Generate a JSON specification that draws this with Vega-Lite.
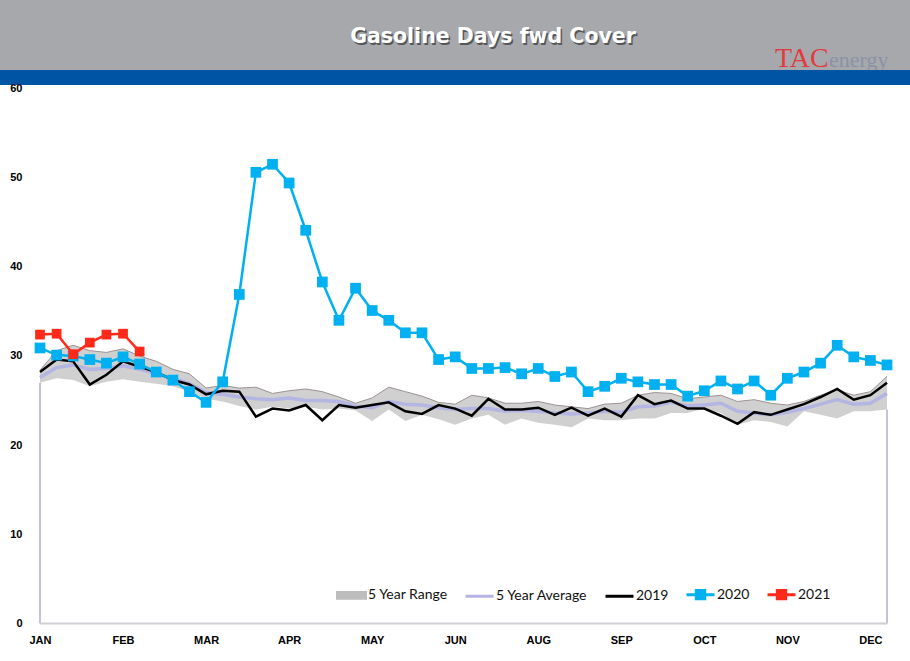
{
  "$schema": "https://vega.github.io/schema/vega-lite/v6.json",
  "padding": 0,
  "spacing": 0,
  "bounds": "flush",
  "config": {"view": {"stroke": null}, "font": "Liberation Sans"},
  "datasets": {
    "range": [
      {"wk":1,"lo":27.0,"hi":28.4},{"wk":2,"lo":27.5,"hi":30.6},{"wk":3,"lo":27.3,"hi":31.2},{"wk":4,"lo":26.6,"hi":30.6},
      {"wk":5,"lo":27.1,"hi":30.4},{"wk":6,"lo":27.4,"hi":30.8},{"wk":7,"lo":27.1,"hi":30.0},{"wk":8,"lo":26.9,"hi":29.4},
      {"wk":9,"lo":26.6,"hi":28.5},{"wk":10,"lo":26.0,"hi":28.0},{"wk":11,"lo":25.2,"hi":26.4},{"wk":12,"lo":24.9,"hi":26.7},
      {"wk":13,"lo":24.4,"hi":26.4},{"wk":14,"lo":24.0,"hi":26.5},{"wk":15,"lo":24.3,"hi":25.8},{"wk":16,"lo":24.1,"hi":26.1},
      {"wk":17,"lo":24.3,"hi":26.3},{"wk":18,"lo":24.0,"hi":26.0},{"wk":19,"lo":24.1,"hi":25.4},{"wk":20,"lo":23.9,"hi":24.7},
      {"wk":21,"lo":22.7,"hi":25.3},{"wk":22,"lo":24.0,"hi":26.5},{"wk":23,"lo":22.7,"hi":26.0},{"wk":24,"lo":23.4,"hi":25.5},
      {"wk":25,"lo":22.9,"hi":24.8},{"wk":26,"lo":22.3,"hi":24.6},{"wk":27,"lo":23.0,"hi":25.6},{"wk":28,"lo":23.4,"hi":25.3},
      {"wk":29,"lo":22.3,"hi":24.7},{"wk":30,"lo":23.0,"hi":24.7},{"wk":31,"lo":22.5,"hi":24.9},{"wk":32,"lo":22.3,"hi":24.5},
      {"wk":33,"lo":22.0,"hi":24.3},{"wk":34,"lo":23.0,"hi":24.1},{"wk":35,"lo":22.8,"hi":24.6},{"wk":36,"lo":22.8,"hi":24.7},
      {"wk":37,"lo":23.0,"hi":25.6},{"wk":38,"lo":23.0,"hi":25.9},{"wk":39,"lo":23.6,"hi":25.8},{"wk":40,"lo":23.6,"hi":25.2},
      {"wk":41,"lo":24.1,"hi":25.4},{"wk":42,"lo":23.6,"hi":25.6},{"wk":43,"lo":22.3,"hi":24.9},{"wk":44,"lo":22.8,"hi":25.1},
      {"wk":45,"lo":22.6,"hi":24.7},{"wk":46,"lo":22.1,"hi":24.5},{"wk":47,"lo":23.8,"hi":24.9},{"wk":48,"lo":23.4,"hi":25.6},
      {"wk":49,"lo":23.0,"hi":26.2},{"wk":50,"lo":23.8,"hi":25.6},{"wk":51,"lo":23.8,"hi":26.0},{"wk":52,"lo":24.0,"hi":27.7}
    ],
    "lines": [
      {"wk":1,"series":"5 Year Average","v":27.6},{"wk":2,"series":"5 Year Average","v":28.7},{"wk":3,"series":"5 Year Average","v":29.0},{"wk":4,"series":"5 Year Average","v":28.5},
      {"wk":5,"series":"5 Year Average","v":28.6},{"wk":6,"series":"5 Year Average","v":28.9},{"wk":7,"series":"5 Year Average","v":28.5},{"wk":8,"series":"5 Year Average","v":28.0},
      {"wk":9,"series":"5 Year Average","v":27.5},{"wk":10,"series":"5 Year Average","v":26.9},{"wk":11,"series":"5 Year Average","v":25.9},{"wk":12,"series":"5 Year Average","v":25.7},
      {"wk":13,"series":"5 Year Average","v":25.4},{"wk":14,"series":"5 Year Average","v":25.2},{"wk":15,"series":"5 Year Average","v":25.1},{"wk":16,"series":"5 Year Average","v":25.3},
      {"wk":17,"series":"5 Year Average","v":25.0},{"wk":18,"series":"5 Year Average","v":25.0},{"wk":19,"series":"5 Year Average","v":24.9},{"wk":20,"series":"5 Year Average","v":24.4},
      {"wk":21,"series":"5 Year Average","v":24.2},{"wk":22,"series":"5 Year Average","v":24.9},{"wk":23,"series":"5 Year Average","v":24.6},{"wk":24,"series":"5 Year Average","v":24.5},
      {"wk":25,"series":"5 Year Average","v":24.2},{"wk":26,"series":"5 Year Average","v":24.0},{"wk":27,"series":"5 Year Average","v":24.1},{"wk":28,"series":"5 Year Average","v":24.1},
      {"wk":29,"series":"5 Year Average","v":23.8},{"wk":30,"series":"5 Year Average","v":23.9},{"wk":31,"series":"5 Year Average","v":23.8},{"wk":32,"series":"5 Year Average","v":23.6},
      {"wk":33,"series":"5 Year Average","v":23.5},{"wk":34,"series":"5 Year Average","v":23.6},{"wk":35,"series":"5 Year Average","v":23.8},{"wk":36,"series":"5 Year Average","v":23.7},
      {"wk":37,"series":"5 Year Average","v":24.3},{"wk":38,"series":"5 Year Average","v":24.4},{"wk":39,"series":"5 Year Average","v":24.8},{"wk":40,"series":"5 Year Average","v":24.4},
      {"wk":41,"series":"5 Year Average","v":24.5},{"wk":42,"series":"5 Year Average","v":24.7},{"wk":43,"series":"5 Year Average","v":23.8},{"wk":44,"series":"5 Year Average","v":23.6},
      {"wk":45,"series":"5 Year Average","v":23.4},{"wk":46,"series":"5 Year Average","v":23.7},{"wk":47,"series":"5 Year Average","v":24.1},{"wk":48,"series":"5 Year Average","v":24.6},
      {"wk":49,"series":"5 Year Average","v":25.1},{"wk":50,"series":"5 Year Average","v":24.6},{"wk":51,"series":"5 Year Average","v":24.7},{"wk":52,"series":"5 Year Average","v":25.8},

      {"wk":1,"series":"2019","v":28.2},{"wk":2,"series":"2019","v":29.6},{"wk":3,"series":"2019","v":29.4},{"wk":4,"series":"2019","v":26.8},
      {"wk":5,"series":"2019","v":27.9},{"wk":6,"series":"2019","v":29.4},{"wk":7,"series":"2019","v":28.8},{"wk":8,"series":"2019","v":28.2},
      {"wk":9,"series":"2019","v":27.3},{"wk":10,"series":"2019","v":26.8},{"wk":11,"series":"2019","v":25.7},{"wk":12,"series":"2019","v":26.1},
      {"wk":13,"series":"2019","v":26.0},{"wk":14,"series":"2019","v":23.2},{"wk":15,"series":"2019","v":24.1},{"wk":16,"series":"2019","v":23.9},
      {"wk":17,"series":"2019","v":24.5},{"wk":18,"series":"2019","v":22.8},{"wk":19,"series":"2019","v":24.5},{"wk":20,"series":"2019","v":24.2},
      {"wk":21,"series":"2019","v":24.5},{"wk":22,"series":"2019","v":24.8},{"wk":23,"series":"2019","v":23.8},{"wk":24,"series":"2019","v":23.5},
      {"wk":25,"series":"2019","v":24.5},{"wk":26,"series":"2019","v":24.1},{"wk":27,"series":"2019","v":23.3},{"wk":28,"series":"2019","v":25.2},
      {"wk":29,"series":"2019","v":24.0},{"wk":30,"series":"2019","v":24.0},{"wk":31,"series":"2019","v":24.2},{"wk":32,"series":"2019","v":23.4},
      {"wk":33,"series":"2019","v":24.2},{"wk":34,"series":"2019","v":23.3},{"wk":35,"series":"2019","v":24.1},{"wk":36,"series":"2019","v":23.2},
      {"wk":37,"series":"2019","v":25.6},{"wk":38,"series":"2019","v":24.6},{"wk":39,"series":"2019","v":25.0},{"wk":40,"series":"2019","v":24.1},
      {"wk":41,"series":"2019","v":24.1},{"wk":42,"series":"2019","v":23.3},{"wk":43,"series":"2019","v":22.4},{"wk":44,"series":"2019","v":23.7},
      {"wk":45,"series":"2019","v":23.4},{"wk":46,"series":"2019","v":24.0},{"wk":47,"series":"2019","v":24.6},{"wk":48,"series":"2019","v":25.4},
      {"wk":49,"series":"2019","v":26.3},{"wk":50,"series":"2019","v":25.1},{"wk":51,"series":"2019","v":25.6},{"wk":52,"series":"2019","v":27.0},

      {"wk":1,"series":"2020","v":30.9},{"wk":2,"series":"2020","v":30.1},{"wk":3,"series":"2020","v":30.0},{"wk":4,"series":"2020","v":29.6},
      {"wk":5,"series":"2020","v":29.2},{"wk":6,"series":"2020","v":29.9},{"wk":7,"series":"2020","v":29.1},{"wk":8,"series":"2020","v":28.2},
      {"wk":9,"series":"2020","v":27.3},{"wk":10,"series":"2020","v":26.0},{"wk":11,"series":"2020","v":24.8},{"wk":12,"series":"2020","v":27.1},
      {"wk":13,"series":"2020","v":36.9},{"wk":14,"series":"2020","v":50.6},{"wk":15,"series":"2020","v":51.5},{"wk":16,"series":"2020","v":49.4},
      {"wk":17,"series":"2020","v":44.1},{"wk":18,"series":"2020","v":38.3},{"wk":19,"series":"2020","v":34.0},{"wk":20,"series":"2020","v":37.6},
      {"wk":21,"series":"2020","v":35.1},{"wk":22,"series":"2020","v":34.0},{"wk":23,"series":"2020","v":32.6},{"wk":24,"series":"2020","v":32.6},
      {"wk":25,"series":"2020","v":29.6},{"wk":26,"series":"2020","v":29.9},{"wk":27,"series":"2020","v":28.6},{"wk":28,"series":"2020","v":28.6},
      {"wk":29,"series":"2020","v":28.7},{"wk":30,"series":"2020","v":28.0},{"wk":31,"series":"2020","v":28.6},{"wk":32,"series":"2020","v":27.7},
      {"wk":33,"series":"2020","v":28.2},{"wk":34,"series":"2020","v":26.0},{"wk":35,"series":"2020","v":26.6},{"wk":36,"series":"2020","v":27.5},
      {"wk":37,"series":"2020","v":27.1},{"wk":38,"series":"2020","v":26.8},{"wk":39,"series":"2020","v":26.8},{"wk":40,"series":"2020","v":25.5},
      {"wk":41,"series":"2020","v":26.1},{"wk":42,"series":"2020","v":27.2},{"wk":43,"series":"2020","v":26.3},{"wk":44,"series":"2020","v":27.2},
      {"wk":45,"series":"2020","v":25.6},{"wk":46,"series":"2020","v":27.5},{"wk":47,"series":"2020","v":28.2},{"wk":48,"series":"2020","v":29.2},
      {"wk":49,"series":"2020","v":31.2},{"wk":50,"series":"2020","v":29.9},{"wk":51,"series":"2020","v":29.5},{"wk":52,"series":"2020","v":29.0},

      {"wk":1,"series":"2021","v":32.4},{"wk":2,"series":"2021","v":32.5},{"wk":3,"series":"2021","v":30.2},{"wk":4,"series":"2021","v":31.5},
      {"wk":5,"series":"2021","v":32.4},{"wk":6,"series":"2021","v":32.5},{"wk":7,"series":"2021","v":30.5}
    ]
  },
  "vconcat": [
    {
      "width": 910,
      "height": 70,
      "view": {"fill": "#a7a8ac", "stroke": null},
      "data": {"values": [{}]},
      "layer": [
        {"mark": {"type": "text", "text": "Gasoline Days fwd Cover", "font": "DejaVu Sans", "fontWeight": "bold", "fontSize": 20.5, "color": "#3c3c3c", "opacity": 0.75, "dx": 39.5, "dy": 3.5}},
        {"mark": {"type": "text", "text": "Gasoline Days fwd Cover", "font": "DejaVu Sans", "fontWeight": "bold", "fontSize": 20.5, "color": "#ffffff", "dx": 38, "dy": 2}},
        {"mark": {"type": "text", "text": "TAC", "font": "Liberation Serif", "fontSize": 28, "color": "#e23b3f", "align": "left", "baseline": "alphabetic", "dx": 320, "dy": 32}},
        {"mark": {"type": "text", "text": "energy", "font": "Liberation Serif", "fontSize": 22, "color": "#8a93a6", "align": "left", "baseline": "alphabetic", "dx": 374, "dy": 32}}
      ]
    },
    {
      "width": 910,
      "height": 15,
      "view": {"fill": "#0054a4", "stroke": null},
      "data": {"values": [{}]},
      "mark": {"type": "text", "text": ""}
    },
    {
      "width": 887,
      "height": 538.5,
      "view": {"stroke": null},
      "layer": [
        {
          "data": {"name": "range"},
          "mark": {"type": "area", "color": "#d0d0d0", "opacity": 1},
          "encoding": {
            "x": {"field": "wk", "type": "quantitative", "scale": {"domain": [-1.4085, 52], "nice": false, "zero": false},
                  "axis": {"title": null, "values": [1,6,11,16,21,26,31,36,41,46,51],
                           "labelExpr": "['JAN','FEB','MAR','APR','MAY','JUN','AUG','SEP','OCT','NOV','DEC'][(datum.value-1)/5]",
                           "labelFont": "Liberation Sans", "labelFontWeight": "bold", "labelFontSize": 11, "labelColor": "#000000",
                           "ticks": false, "grid": false, "labelPadding": 11, "labelFlush": false, "labelOverlap": false,
                           "domain": false}},
            "y": {"field": "hi", "type": "quantitative", "scale": {"domain": [0, 60.39], "nice": false},
                  "axis": {"title": null, "values": [0,10,20,30,40,50,60], "labelFont": "Liberation Sans", "labelFontWeight": "bold",
                           "labelFontSize": 11, "labelColor": "#000000", "ticks": false, "grid": false, "domain": false,
                           "labelPadding": 18, "offset": -40}},
            "y2": {"field": "lo"}
          }
        },
        {
          "data": {"name": "range"},
          "mark": {"type": "line", "color": "#9c9391", "strokeWidth": 1},
          "encoding": {"x": {"field": "wk", "type": "quantitative"}, "y": {"field": "hi", "type": "quantitative"}}
        },
        {
          "data": {"name": "range"},
          "transform": [{"filter": "datum.wk == 1 || datum.wk == 52"}],
          "mark": {"type": "rule", "color": "#c3c5d5", "strokeWidth": 2},
          "encoding": {"x": {"field": "wk", "type": "quantitative"}, "y": {"field": "lo", "type": "quantitative"}, "y2": {"datum": 0}}
        },
        {
          "data": {"name": "range"},
          "transform": [{"filter": "datum.wk == 1"}],
          "mark": {"type": "rule", "color": "#cfd0d6", "strokeWidth": 2},
          "encoding": {"x": {"field": "wk", "type": "quantitative"}, "x2": {"datum": 52}, "y": {"datum": 0}}
        },
        {
          "data": {"name": "lines"},
          "transform": [{"filter": "datum.series == '5 Year Average'"}],
          "mark": {"type": "line", "strokeWidth": 3.5, "color": "#b3b5e2"},
          "encoding": {"x": {"field": "wk", "type": "quantitative"}, "y": {"field": "v", "type": "quantitative"}}
        },
        {
          "data": {"name": "lines"},
          "transform": [{"filter": "datum.series == '2019'"}],
          "mark": {"type": "line", "strokeWidth": 2.5, "color": "#000000"},
          "encoding": {"x": {"field": "wk", "type": "quantitative"}, "y": {"field": "v", "type": "quantitative"}}
        },
        {
          "data": {"name": "lines"},
          "transform": [{"filter": "datum.series == '2020'"}],
          "mark": {"type": "line", "strokeWidth": 2.5, "color": "#00b0f0", "point": {"shape": "square", "size": 115, "filled": true, "opacity": 1, "color": "#00b0f0"}},
          "encoding": {"x": {"field": "wk", "type": "quantitative"}, "y": {"field": "v", "type": "quantitative"}}
        },
        {
          "data": {"name": "lines"},
          "transform": [{"filter": "datum.series == '2021'"}],
          "mark": {"type": "line", "strokeWidth": 2.5, "color": "#ff2a1a", "point": {"shape": "square", "size": 95, "filled": true, "opacity": 1, "color": "#ff2a1a"}},
          "encoding": {"x": {"field": "wk", "type": "quantitative"}, "y": {"field": "v", "type": "quantitative"}}
        },
        {
          "data": {"name": "lines"},
          "mark": {"type": "point", "opacity": 0, "filled": false, "strokeWidth": 3},
          "encoding": {
            "x": {"field": "wk", "type": "quantitative"},
            "y": {"field": "v", "type": "quantitative"},
            "color": {"field": "series", "type": "nominal",
                      "scale": {"domain": ["5 Year Range", "5 Year Average", "2019", "2020", "2021"],
                                "range": ["#bdbdbd", "#b3b5e2", "#000000", "#00b0f0", "#ff2a1a"]},
                      "legend": {"orient": "none", "legendX": 336, "legendY": 579, "direction": "horizontal", "title": null,
                                 "symbolSize": 784, "symbolStrokeWidth": 3, "symbolOpacity": 1, "labelFont": "Lato", "labelFontSize": 14,
                                 "labelColor": "#111111", "labelOffset": 1, "columnPadding": 11}},
            "shape": {"field": "series", "type": "nominal",
                      "scale": {"domain": ["5 Year Range", "5 Year Average", "2019", "2020", "2021"],
                                "range": ["M-1,-0.2H1V0.2H-1Z M-1,0H1", "M-1,0H1", "M-1,0H1",
                                          "M-1,0H1 M-0.3,-0.3H0.3V0.3H-0.3Z M-0.12,-0.12H0.12V0.12H-0.12Z",
                                          "M-1,0H1 M-0.3,-0.3H0.3V0.3H-0.3Z M-0.12,-0.12H0.12V0.12H-0.12Z"]},
                      "legend": {"orient": "none", "legendX": 336, "legendY": 579, "direction": "horizontal", "title": null,
                                 "symbolSize": 784, "symbolStrokeWidth": 3, "symbolOpacity": 1, "labelFont": "Lato", "labelFontSize": 14,
                                 "labelColor": "#111111", "labelOffset": 1, "columnPadding": 11}}
          }
        }
      ]
    }
  ]
}
